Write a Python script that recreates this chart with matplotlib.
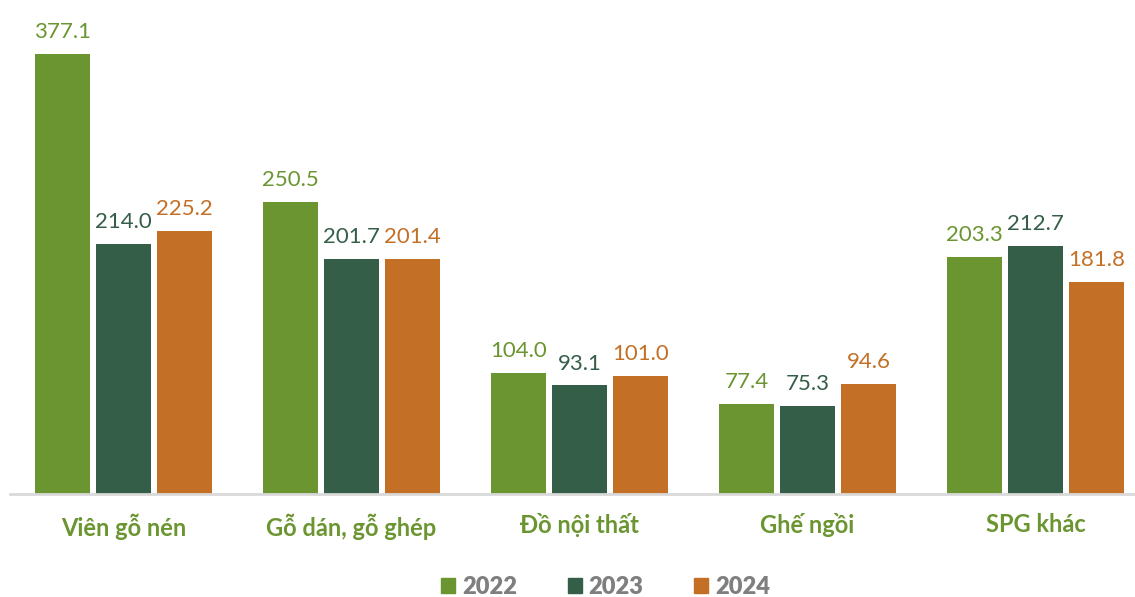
import matplotlib
matplotlib.use("Agg")
import matplotlib.pyplot as plt
from matplotlib.patches import Patch
import numpy as np

plt.rcParams['font.family'] = ['Lato', 'DejaVu Sans']

categories = ["Viên gỗ nén", "Gỗ dán, gỗ ghép", "Đồ nội thất", "Ghế ngồi", "SPG khác"]
years = ["2022", "2023", "2024"]
v2022 = [377.1, 250.5, 104.0, 77.4, 203.3]
v2023 = [214.0, 201.7, 93.1, 75.3, 212.7]
v2024 = [225.2, 201.4, 101.0, 94.6, 181.8]
series = [v2022, v2023, v2024]
colors = ["#6a9530", "#355e48", "#c37026"]
cat_color = "#6a9530"

W, H = 1135, 597
fig = plt.figure(figsize=(W/100, H/100), dpi=100)
left_px = 9.5
width_px = W - left_px
base_px = 494
ymax = 400
px_per_unit = 440/377.1
height_px = ymax*px_per_unit
ax = fig.add_axes([left_px/W, (H-base_px)/H, width_px/W, height_px/H])

grp = 228.0
bw = 55/grp
off = 61/grp
x = np.arange(len(categories))
for i, (vals, c) in enumerate(zip(series, colors)):
    xs = x + (i-1)*off
    ax.bar(xs, vals, width=bw, color=c, zorder=2)
    for xi, v in zip(xs, vals):
        ax.annotate(f"{v:.1f}", (xi, v), xytext=(0, 8.5), textcoords="offset points",
                    ha="center", va="bottom", fontsize=16, color=c)

ax.set_xlim(-0.5, -0.5 + width_px/grp)
ax.set_ylim(0, ymax)
for s in ["top", "right", "left"]:
    ax.spines[s].set_visible(False)
ax.spines["bottom"].set_color("#d9d9d9")
ax.spines["bottom"].set_linewidth(2)
ax.set_yticks([])
ax.set_xticks(x)
ax.set_xticklabels(categories, fontsize=17, fontweight="bold", color=cat_color)
ax.tick_params(axis="x", length=0, pad=14)

handles = [Patch(color=c, label=y) for c, y in zip(colors, years)]
leg = fig.legend(handles=handles, loc="center", bbox_to_anchor=(605.5/W, 1-587/H), ncol=3,
                 frameon=False, handlelength=0.6, handleheight=0.6, handletextpad=0.28,
                 columnspacing=2.15, prop={"size": 17, "weight": "heavy"})
for t in leg.get_texts():
    t.set_color("#7f7f7f")

fig.savefig("out.png", dpi=100)
